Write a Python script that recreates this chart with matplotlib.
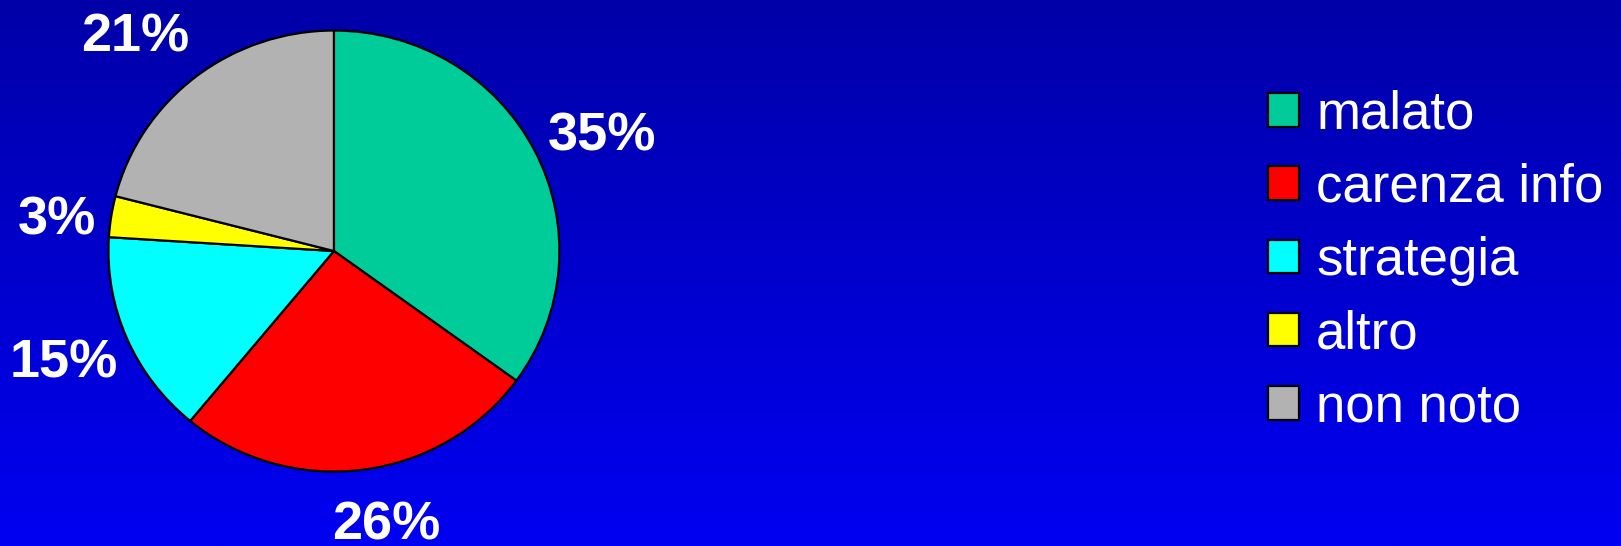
import numpy as np
import matplotlib
matplotlib.use("Agg")
import matplotlib.pyplot as plt
from matplotlib.colors import LinearSegmentedColormap

plt.rcParams['font.family'] = ['Liberation Sans', 'DejaVu Sans']

# data
categories = ["malato", "carenza info", "strategia", "altro", "non noto"]
values = [35, 26, 15, 3, 21]
pct_labels = ["35%", "26%", "15%", "3%", "21%"]
colors = ["#00CC99", "#FF0000", "#00FFFF", "#FFFF00", "#B2B2B2"]

# label centres, in pie units (radius = 1)
label_pos = [(1.19, 0.54), (0.23, -1.225), (-1.20, -0.49), (-1.23, 0.16), (-0.88, 0.99)]

fig = plt.figure(figsize=(16.21, 5.46), dpi=100)

# background gradient (dark blue top -> bright blue bottom)
bg = fig.add_axes([0, 0, 1, 1])
cmap = LinearSegmentedColormap.from_list("bg", ["#0000A8", "#0000F2"])
grad = np.linspace(0, 1, 256).reshape(-1, 1)
bg.imshow(grad, aspect="auto", cmap=cmap, extent=[0, 1, 0, 1], origin="upper")
bg.axis("off")

# pie
ax = fig.add_axes([0.0669, 0.1364, 0.2782, 0.8077])
wedges, _ = ax.pie(values, colors=colors, startangle=90, counterclock=False,
                   wedgeprops=dict(edgecolor="black", linewidth=1.6))
ax.set_aspect("auto")
ax.set_xlim(-1, 1)
ax.set_ylim(-1, 1)
ax.axis("off")

# baseline sits half a cap height below the visual centre
cap_shift = 0.084
for (x, y), txt in zip(label_pos, pct_labels):
    ax.text(x, y - cap_shift, txt, ha="center", va="baseline",
            color="white", fontsize=39, fontweight="bold", clip_on=False)

# legend
leg = fig.legend(wedges, categories, loc="center left",
                 bbox_to_anchor=(0.782, 0.522), frameon=False,
                 fontsize=38, handlelength=0.6, handleheight=0.6,
                 handletextpad=0.32, labelspacing=0.44,
                 borderpad=0, borderaxespad=0)
for t in leg.get_texts():
    t.set_color("white")

fig.savefig("out.png", dpi=100)
